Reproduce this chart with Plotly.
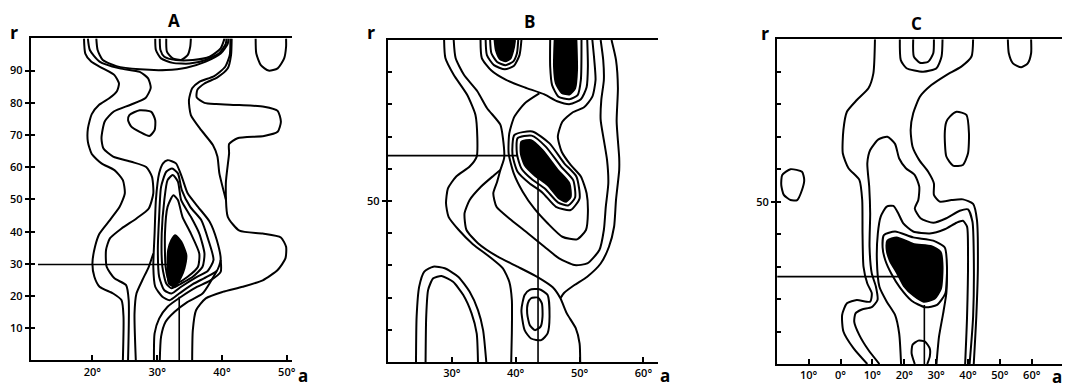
import plotly.graph_objects as go

# ---------------- Panel A (alpha in degrees, r) ----------------
A_L1 = ([18.7,18.9,19.8,21.6,23.4,24.1,23.8,22.6,21.0,19.9,19.3,19.3,19.9,21.4,23.4,24.7,25.0,24.2,22.7,21.1,20.4,20.0,20.3,21.1,23.2,24.5,24.8,24.7],
        [100,95.3,92.8,90.7,88.6,86.0,83.7,81.4,79.3,76.5,72.0,67.9,64.1,61.2,59.1,56.0,51.9,47.7,43.6,39.4,35.3,30.1,26.0,22.9,20.8,18.7,13.6,0])
A_L2 = ([19.3,19.6,21.1,24.2,27.3,28.6,29.0,28.2,25.9,23.3,21.9,21.4,21.7,23.2,26.0,28.3,29.2,29.4,28.7,26.8,24.5,22.7,22.1,22.2,23.4,25.2,25.6,25.5],
        [100,96.4,92.8,90.7,89.6,87.6,84.6,81.5,79.4,77.3,74.2,69.0,65.8,63.3,61.7,60.1,57.0,51.9,47.2,44.1,41.0,37.9,34.3,29.1,25.5,23.4,18.7,0])
A_U1 = ([20.6,20.8,21.6,23.7,27.3,31.4,34.5,37.5,39.8,40.9,41.0],
        [100,96.4,93.3,91.4,90.4,90.2,90.9,92.8,95.3,98.4,100])
A_U2 = ([29.7,29.8,30.6,32.4,35.0,37.5,39.6,40.6,40.7],
        [100,96.4,93.8,92.4,92.2,93.3,95.5,98.4,100])
A_U3 = ([30.4,30.5,31.1,32.9,35.5,38.1,39.8,40.4],
        [100,96.4,94.3,93.3,93.3,94.3,96.9,100])
A_U4 = ([31.4,31.5,32.4,33.7,34.7,35.1,35.2],
        [100,95.9,93.8,93.3,94.8,97.4,100])
A_U5 = ([45.2,45.3,46.0,47.2,48.6,49.6,49.9,49.9],
        [100,95.3,91.7,90.0,90.7,93.8,97.4,100])
A_O = ([25.7,27.3,29.1,29.7,29.6,28.8,27.3,26.0,25.5,25.7],
       [76.2,77.7,77.2,74.6,71.5,69.7,71.0,72.6,74.6,76.2])
A_R1 = ([41.5,41.4,40.9,39.3,37.3,36.2,36.1,37.3,39.1,42.7,46.5,48.6,49.1,48.6,46.5,42.4,41.1,41.1,40.6,40.9,42.7,46.3,49.1,49.9,49.8,48.6,46.3,43.2,40.1,37.5,36.0,35.5,35.4],
        [100,94.8,90.7,87.9,86.0,84.0,81.7,80.0,79.6,79.3,78.8,77.5,74.1,71.0,69.7,69.0,67.2,64.3,55.0,44.6,40.3,39.4,38.2,35.3,31.7,28.1,24.9,22.9,21.3,19.3,15.6,9.4,0])
A_R2 = ([41.3,41.2,40.5,38.8,36.5,35.4,34.9,35.2,36.8,38.6,39.3,39.6,40.6],
        [100,94.8,91.2,88.3,86.5,84.5,80.8,76.2,71.5,66.9,63.3,58.1,50.0])
A_C1 = ([32.5,33.2,33.9,35.2,36.5,36.3,34.7,32.9,31.9,31.3,31.2,31.6,32.5],
        [51.3,49.8,44.6,39.4,33.2,29.1,26.0,23.9,24.4,29.1,39.4,47.7,51.3])
A_C2 = ([32.4,33.2,33.7,35.2,36.5,37.3,37.0,35.5,33.7,32.2,31.4,30.8,30.7,31.1,31.6,32.4],
        [57.6,55.5,49.8,44.6,39.4,33.2,29.1,26.0,23.9,22.4,23.9,29.1,39.4,49.8,56.0,57.6])
A_C3 = ([32.3,33.2,33.8,35.1,36.8,37.9,38.7,37.8,36.0,33.7,32.2,31.1,30.3,30.1,30.3,30.6,31.4,32.3],
        [59.6,58.1,52.9,47.7,43.6,37.4,31.2,27.8,25.8,22.9,20.8,21.8,26.0,34.3,44.6,53.9,58.6,59.6])
A_C4 = ([31.6,32.9,33.8,34.7,36.3,38.1,39.2,39.8,39.2,37.5,35.5,33.4,31.9,30.8,29.7,29.4,29.6,29.8,30.3,30.9,31.6],
        [62.2,61.2,57.0,51.9,47.7,43.1,37.4,31.2,27.8,25.8,23.7,20.8,18.7,19.8,22.9,29.1,39.4,49.8,58.1,61.2,62.2])
A_D1 = ([26.7,26.5,26.8,27.7,28.7,29.4], [0,14.6,20.8,24.9,29.1,33.2])
A_D2 = ([29.5,29.6,30.3,31.6,33.7,36.0,38.1,39.8,39.8], [0,8.4,13.0,16.7,19.8,22.7,24.7,27.5,31.2])
A_D3 = ([30.4,30.6,31.3,32.7,34.7,37.0,39.2], [0,7.4,12.0,15.1,18.2,20.8,27.8])
A_BLOB = ([32.8,33.7,34.5,34.2,33.7,32.7,31.8,31.6,31.7,32.2,32.8],
          [38.9,36.9,32.7,28.6,26.0,22.9,23.9,29.1,34.3,37.4,38.9])
A_MARK_H = ([11.6, 31.9], [29.8, 29.8])
A_MARK_V = ([33.4, 33.4], [19.8, 0])

# ---------------- Panel B ----------------
B_L1 = ([28.8,29.0,30.3,32.4,33.7,34.0,33.9,32.8,30.7,29.4,29.1,29.5,31.1,33.3,35.9,38.0,39.0,39.4,39.4,39.3],
        [100,94.4,89.2,83.0,76.8,69.6,63.8,60.7,57.6,53.9,49.3,45.1,41.0,36.6,32.7,29.1,24.9,19.3,8.9,0])
B_L2 = ([30.3,30.6,31.9,34.0,35.5,37.6,38.0,38.2,37.6,37.1,36.5,37.0,39.3,41.9,44.5,46.8,49.2,51.2,53.1,53.8,54.1,54.5,54.3,53.8,53.3,53.4,53.8,53.7,53.3],
        [100,94.4,89.2,84.1,78.9,73.7,69.6,63.4,59.6,56.0,52.4,48.2,44.1,40.0,35.8,32.2,30.1,30.6,34.8,41.0,48.2,55.5,62.7,68.9,75.2,81.4,87.6,93.8,100])
B_U = ([34.5,34.7,36.2,38.5,41.4,44.5,46.5,48.5,50.2,51.1,51.3,51.2],
       [100,94.4,90.5,87.6,85.3,83.1,81.0,80.1,81.6,85.3,91.7,100])
B_RING_L1 = ([35.3,35.5,36.6,38.3,39.7,40.6,40.9], [100,95.3,92.2,90.9,91.9,95.3,100])
B_RING_L2 = ([36.0,36.2,37.1,38.4,39.6,40.2,40.4], [100,95.9,93.2,92.2,93.3,95.9,100])
B_BLOB_L = ([36.7,36.9,37.5,38.4,39.2,39.7,39.9], [100,96.9,94.2,93.4,94.3,97.4,100])
B_RING_R = ([45.4,45.4,45.7,46.7,48.4,49.7,50.2,50.3], [100,91.7,86.0,82.4,81.6,82.9,87.6,100])
B_BLOB_R = ([46.1,46.0,46.3,47.2,48.4,49.3,49.6,49.5], [100,91.7,86.5,83.6,83.1,85.0,90.7,100])
B_RMID = ([52.0,52.3,52.5,52.0,50.7,48.9,47.3,46.6,47.2,48.6,50.2,51.1,51.3,51.0,49.6,47.3,45.0,42.9,41.1,39.7,38.9,39.0,39.8,41.4,43.7],
          [100,93.8,87.6,82.4,79.1,77.5,74.6,70.0,65.3,61.2,57.6,52.4,46.2,41.0,38.1,38.9,43.1,47.7,52.9,58.6,64.8,71.0,76.2,80.3,83.4])
B_RING1 = ([40.3,42.5,44.7,47.1,49.0,49.3,48.2,46.6,44.6,42.5,40.9,40.2,40.3],
           [69.5,70.3,66.9,60.7,56.5,51.1,48.6,49.6,53.8,56.8,60.1,64.6,69.5])
B_RING2 = ([39.8,42.6,45.3,47.6,49.5,50.0,48.6,46.3,44.2,42.1,40.3,39.5,39.8],
           [70.5,71.6,67.9,61.7,57.6,50.8,47.2,48.2,52.6,55.6,59.1,64.4,70.5])
B_BLOB = ([40.9,42.4,44.2,46.6,48.4,48.6,47.9,46.8,45.0,42.9,41.4,40.8,40.9],
          [68.4,68.9,65.8,59.6,55.5,51.3,49.8,50.8,55.0,58.1,61.2,64.8,68.4])
B_ROUT = ([55.0,55.7,56.0,55.8,56.2,56.2,55.7,55.4,54.6,53.3,51.2,49.2,47.6,47.0],
          [100,93.8,85.1,74.7,63.4,59.6,50.3,42.0,35.8,30.6,26.5,23.9,21.5,19.8])
B_L5 = ([50.1,50.0,49.4,48.0,47.0,45.8,43.5,40.3,37.2,34.1,32.3,32.0,32.8,34.6,36.5,37.6],
        [0,5.8,10.5,15.1,19.8,23.2,26.3,29.6,32.7,36.9,41.0,46.2,50.3,54.5,57.8,59.6])
B_ARCH_O = ([24.4,24.5,24.9,25.7,27.1,28.9,31.0,32.8,34.1,34.9,35.4],
            [0,14.1,23.4,28.1,29.6,29.1,26.5,21.8,16.1,9.9,0])
B_ARCH_I = ([25.9,26.0,26.3,27.1,28.4,30.2,31.8,33.1,33.9,34.1],
            [0,14.1,22.4,26.0,26.7,24.9,20.8,15.1,8.9,0])
B_LOOP_O = ([42.2,43.7,45.0,45.3,45.0,44.0,42.4,41.4,40.9,41.4,42.2],
            [22.4,22.6,20.8,14.1,8.9,6.8,7.3,9.9,16.1,20.8,22.4])
B_LOOP_I = ([42.4,43.5,44.1,44.2,43.9,43.0,42.2,41.8,41.9,42.4],
            [19.8,20.0,18.2,14.1,11.0,9.9,11.5,15.1,18.2,19.8])
B_MARK_H = ([20, 40.3], [64.1, 64.1])
B_MARK_V = ([43.5, 43.5], [59.6, 0])

# ---------------- Panel C ----------------
C_L1 = ([10.8,10.3,8.75,5.1,2.0,0.9,0.7,2.5,5.9,6.8,6.9,7.2,8.4,9.8,9.3,5.1,2.0,0.5,0.9,4.1,8.4],
        [100,89.5,84.9,81.3,77.7,72.1,64.9,60.3,56.7,50.5,40.2,30.0,24.8,21.8,19.2,19.7,18.7,15.1,10.0,4.8,0])
C_L3 = ([12.2,8.75,5.9,4.3,4.7,6.7,9.8,11.6,11.1,9.8,9.1,9.3,9.0,8.4,9.3,11.9,14.7,17.1,18.4,20.5,23.3,24.7,24.4,23.3,25.1,29.1,33.2,37.4,40.0,41.4,41.8,41.6,40.5],
        [0,4.3,8.9,13.0,15.6,16.8,17.5,19.7,23.8,27.9,36.1,46.4,54.6,61.8,65.9,69.2,70.0,67.8,63.3,60.3,58.2,54.6,50.5,47.9,44.9,43.5,44.9,47.2,47.6,43.8,34.1,14.6,0])
C_R1 = ([41.6,41.1,37.9,33.2,28.5,24.9,22.8,22.0,22.6,24.7,27.5,29.3,29.3,31.1,34.8,38.4,41.6,42.8,43.1,42.6,41.8],
        [100,94.7,91.6,89.0,85.9,82.3,77.2,72.1,66.9,62.8,59.2,55.6,52.1,50.0,50.5,50.7,49.3,44.4,30.0,14.6,0])
C_RING2 = ([19.0,18.4,17.1,14.5,12.2,11.4,11.7,12.6,14.5,16.6,18.1,19.7,22.8,28.0,32.7,36.4,38.4,39.7,40.0,39.7,39.1],
           [0,9.4,15.1,19.2,23.8,32.0,40.2,45.4,48.5,48.7,46.4,43.3,40.8,40.2,41.5,43.5,44.1,42.3,34.1,14.6,0])
C_RING1 = ([13.6,17.1,22.8,29.1,32.7,33.4,32.9,30.3,26.5,22.3,18.6,16.0,14.1,13.2,13.6],
           [39.7,40.8,39.0,38.0,35.9,30.0,21.8,18.2,17.5,19.5,23.6,27.7,31.8,35.9,39.7])
C_BLOB = ([14.7,17.6,22.8,28.5,31.4,32.0,31.5,29.5,26.1,23.0,19.9,17.8,15.5,14.5,14.7],
          [38.0,39.0,37.0,36.3,34.5,30.0,23.2,20.1,19.2,21.0,24.0,27.9,31.8,35.1,38.0])
C_RING1B = ([33.4,33.2,32.2,30.9,30.1], [27.9,21.8,15.6,8.4,0])
C_LOOP_B = ([23.3,22.3,22.6,24.4,26.5,28.0,28.0,27.2], [0,3.3,5.9,7.2,6.9,4.8,2.3,0])
C_U_O = ([18.6,18.9,20.7,25.9,30.1,31.7,32.0], [100,93.6,91.1,90.0,91.1,94.7,100])
C_U_I = ([22.8,23.0,24.9,27.5,29.1,29.3], [100,94.7,92.8,93.1,95.7,100])
C_U_R = ([52.5,52.8,54.1,56.7,58.75,59.8,59.8], [100,95.7,92.6,91.4,92.6,95.7,100])
C_LOOP_R = ([34.3,36.4,39.5,40.3,40.0,38.4,35.3,33.2,32.7,33.2,34.3],
            [76.2,77.7,76.7,71.0,64.9,61.3,61.1,63.9,71.0,74.6,76.2])
C_LOOP_L = ([-18.3,-15.7,-12.1,-11.4,-12.1,-13.6,-15.7,-17.8,-18.6,-18.3],
            [58.2,60.0,59.2,56.7,53.6,50.5,50.5,52.1,55.1,58.2])
C_MARK_H = ([-19.9, 18.6], [26.9, 26.9])
C_MARK_V = ([26.3, 26.3], [18.2, 0])

# ---------------- tick labels ----------------
A_XTICKS = [20, 30, 40, 50]
A_XTEXT = ["20°", "30°", "40°", "50°"]
B_XTICKS = [30, 40, 50, 60]
B_XTEXT = ["30°", "40°", "50°", "60°"]
C_XTICKS = [-10, 0, 10, 20, 30, 40, 50, 60]
C_XTEXT = ["10°", "0°", "10°", "20°", "30°", "40°", "50°", "60°"]
R_TICKS = [10, 20, 30, 40, 50, 60, 70, 80, 90]
A_RTEXT = ["10", "20", "30", "40", "50", "60", "70", "80", "90"]
BC_RTEXT = ["", "", "", "", "50", "", "", "", ""]

fig = go.Figure()

def add(curve, ax, fill=False, width=2.0):
    xs, ys = curve
    fig.add_trace(go.Scatter(
        x=xs, y=ys, xaxis="x" + ax, yaxis="y" + ax, mode="lines",
        line=dict(color="black", width=width, shape="spline", smoothing=0.6),
        fill="toself" if fill else None, fillcolor="black",
        hoverinfo="skip", showlegend=False))

def add_straight(curve, ax, width=1.6):
    xs, ys = curve
    fig.add_trace(go.Scatter(x=xs, y=ys, xaxis="x" + ax, yaxis="y" + ax, mode="lines",
                             line=dict(color="black", width=width),
                             hoverinfo="skip", showlegend=False))

for c in [A_L1, A_L2, A_U1, A_U2, A_U3, A_U4, A_U5, A_O, A_R1, A_R2,
          A_C1, A_C2, A_C3, A_C4, A_D1, A_D2, A_D3]:
    add(c, "")
add(A_BLOB, "", fill=True)
add_straight(A_MARK_H, "")
add_straight(A_MARK_V, "")

for c in [B_L1, B_L2, B_U, B_RING_L1, B_RING_L2, B_RING_R, B_RMID, B_RING1, B_RING2,
          B_ROUT, B_L5, B_ARCH_O, B_ARCH_I, B_LOOP_O, B_LOOP_I]:
    add(c, "2")
for c in [B_BLOB_L, B_BLOB_R, B_BLOB]:
    add(c, "2", fill=True)
add_straight(B_MARK_H, "2")
add_straight(B_MARK_V, "2")

for c in [C_L1, C_L3, C_R1, C_RING2, C_RING1, C_RING1B, C_LOOP_B, C_U_O, C_U_I,
          C_U_R, C_LOOP_R, C_LOOP_L]:
    add(c, "3")
add(C_BLOB, "3", fill=True)
add_straight(C_MARK_H, "3")
add_straight(C_MARK_V, "3")

FONT = "Open Sans"
tickfont = dict(family=FONT, size=11, color="black", weight=600)

def xaxis(dom, rng, vals, text):
    return dict(domain=dom, range=rng, showline=True, linecolor="black", linewidth=2,
                mirror=True, ticks="inside", ticklen=5, tickwidth=2, tickcolor="black",
                tickmode="array", tickvals=vals, ticktext=text, tickfont=tickfont,
                showgrid=False, zeroline=False, fixedrange=True)

def yaxis(dom, anchor, text):
    return dict(domain=dom, range=[0, 100], anchor=anchor, showline=True, linecolor="black",
                linewidth=2, ticks="outside", ticklen=4, tickwidth=2, tickcolor="black",
                tickmode="array", tickvals=R_TICKS, ticktext=text, tickfont=tickfont,
                minor=dict(ticks="inside", ticklen=4, tickwidth=2, tickcolor="black",
                           tickmode="array", tickvals=R_TICKS),
                showgrid=False, zeroline=False, fixedrange=True)

W, H = 1069, 387
fig.update_layout(
    width=W, height=H, autosize=False,
    margin=dict(l=0, r=0, t=0, b=0),
    paper_bgcolor="white", plot_bgcolor="white",
    xaxis=dict(xaxis([0.0290, 0.2741], [10.5, 50.8], A_XTICKS, A_XTEXT), anchor="y"),
    yaxis=yaxis([0.0685, 0.9008], "x", A_RTEXT),
    xaxis2=dict(xaxis([0.3642, 0.6174], [20, 62.2], B_XTICKS, B_XTEXT), anchor="y2"),
    yaxis2=yaxis([0.0646, 0.8966], "x2", BC_RTEXT),
    xaxis3=dict(xaxis([0.7297, 0.9972], [-19.9, 69.5], C_XTICKS, C_XTEXT), anchor="y3"),
    yaxis3=yaxis([0.0594, 0.8984], "x3", BC_RTEXT),
)

def label(text, px, py, size, bold=True):
    fig.add_annotation(text=text, x=px / W, y=1 - py / H, xref="paper", yref="paper",
                       showarrow=False, xanchor="center", yanchor="middle",
                       font=dict(family=FONT, size=size, color="black",
                                 weight="bold" if bold else "normal"))

for t, px, py in [("A", 175, 20), ("B", 531, 22), ("C", 920, 23)]:
    label(t, px, py, 17)
for px, py in [(14, 32), (372, 32), (768, 33)]:
    label("r", px, py, 18)
for px, py in [(304, 375), (667, 375), (1061, 376)]:
    label("a", px, py, 17)

fig.write_html("out.html")
